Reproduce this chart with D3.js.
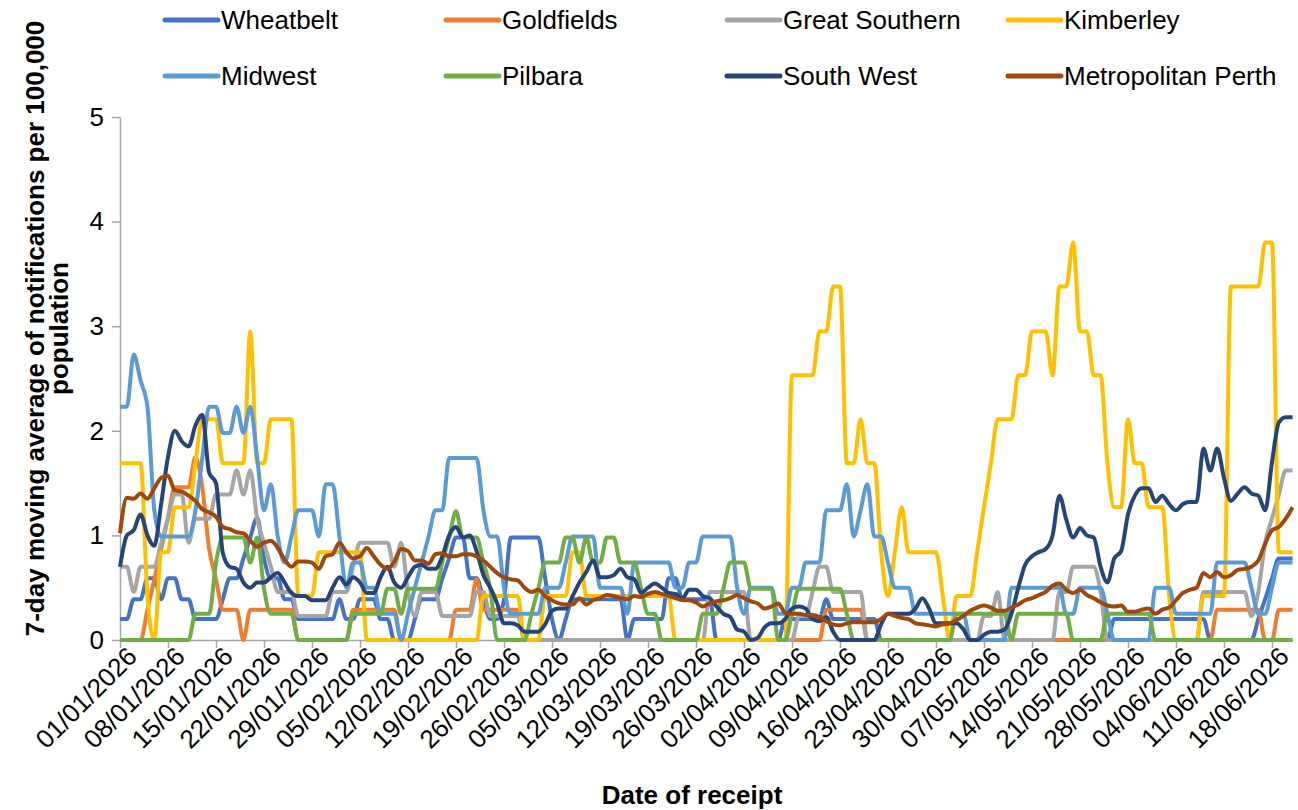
<!DOCTYPE html>
<html lang="en">
<head>
<meta charset="UTF-8">
<title>7-day moving average of notifications by region</title>
<script src="https://cdnjs.cloudflare.com/ajax/libs/d3/7.8.5/d3.min.js"></script>
<style>
  body { margin: 0; background: #fff; }
  svg text { font-family: "Liberation Sans", Arial, sans-serif; fill: #000; }
  .axis path, .axis line { stroke: #a6a6a6; stroke-width: 1.5; }
  .axis text { font-size: 26px; }
  .title { font-size: 26px; font-weight: bold; }
  .legend text { font-size: 26px; }
</style>
</head>
<body>
<svg id="chart" width="1298" height="810"></svg>
<script>
// Daily 7-day moving averages, one row per week, starting 01/01/2026
const wheatbelt = [
  0.2,0.2,0.39,0.39,0.59,0.59,0.39,
  0.59,0.59,0.39,0.39,0.2,0.2,0.2,
  0.2,0.39,0.59,0.59,0.78,0.98,1.17,
  0.78,0.59,0.59,0.39,0.39,0.2,0.2,
  0.2,0.2,0.2,0.2,0.39,0.2,0.2,
  0.39,0.39,0.39,0.2,0.2,0,0,
  0,0.2,0.39,0.39,0.39,0.59,0.78,
  0.98,0.98,0.59,0.59,0.39,0.2,0.2,
  0.39,0.98,0.98,0.98,0.98,0.98,0.59,
  0.2,0,0.2,0.39,0.39,0.39,0.39,
  0.39,0.39,0.39,0.39,0,0.2,0.2,
  0.2,0.2,0.2,0.59,0.59,0.39,0.39,
  0.39,0.39,0.39,0,0,0,0,
  0,0,0,0,0,0,0.2,
  0.2,0.2,0.2,0.2,0.2,0.39,0.2,
  0.2,0.2,0.2,0.2,0.2,0.2,0,
  0,0,0,0,0,0,0,
  0,0,0,0,0,0,0,
  0,0,0,0,0,0,0,
  0,0,0,0,0,0,0,
  0,0,0,0,0,0.2,0.2,
  0.2,0.2,0.2,0.2,0.2,0.2,0.2,
  0.2,0.2,0.2,0.2,0.2,0,0,
  0,0,0,0,0,0.2,0.39,
  0.59,0.78,0.78,0.78
];
const goldfields = [
  0,0,0,0,0.29,0.58,0.87,
  1.17,1.46,1.46,1.46,1.75,1.46,0.87,
  0.58,0.29,0.29,0.29,0,0.29,0.29,
  0.29,0.29,0.29,0.29,0.29,0,0,
  0,0,0,0,0,0,0.29,
  0.29,0.29,0.29,0.29,0.29,0.29,0,
  0,0,0,0,0,0,0,
  0.29,0.29,0.29,0.58,0.29,0.29,0.29,
  0.29,0.29,0.29,0,0,0,0,
  0,0,0,0,0,0,0,
  0,0,0,0,0,0,0,
  0,0,0,0,0,0,0,
  0,0,0,0,0,0,0,
  0,0,0,0,0,0,0,
  0,0,0,0,0,0.29,0.29,
  0.29,0.29,0.29,0.29,0,0,0,
  0,0,0,0,0,0,0,
  0,0,0,0,0,0,0,
  0,0,0,0,0,0,0,
  0,0,0,0,0,0,0,
  0,0,0,0,0,0,0,
  0,0,0,0,0,0,0,
  0,0,0,0,0,0,0.29,
  0.29,0.29,0.29,0.29,0.29,0.29,0,
  0,0.29,0.29,0.29
];
const greatSouthern = [
  0.7,0.7,0.46,0.7,0.7,0.7,0.93,
  1.16,1.39,1.39,0.93,1.16,1.16,1.16,
  1.39,1.39,1.39,1.62,1.39,1.62,1.16,
  0.93,0.7,0.46,0.46,0.46,0.23,0.23,
  0.23,0.23,0.23,0.46,0.46,0.46,0.7,
  0.93,0.93,0.93,0.93,0.93,0.7,0.93,
  0.46,0.23,0.46,0.46,0.46,0.23,0.23,
  0.23,0.23,0.23,0.46,0.46,0.23,0.23,
  0.23,0.23,0.23,0,0,0,0,
  0,0,0,0,0,0,0,
  0,0,0,0,0,0,0,
  0,0,0,0,0,0,0,
  0,0,0.46,0.46,0.46,0.46,0.46,
  0.46,0,0,0,0,0,0,
  0,0.23,0.23,0.46,0.7,0.7,0.46,
  0.46,0.46,0.46,0.46,0,0,0,
  0,0,0,0,0,0,0,
  0,0,0,0,0,0,0,
  0.23,0.23,0.46,0,0,0,0,
  0,0,0,0,0.46,0.46,0.7,
  0.7,0.7,0.7,0.46,0,0,0,
  0,0,0,0,0,0,0,
  0,0,0,0,0.46,0.46,0.46,
  0.46,0.46,0.46,0.46,0.23,0.46,0.93,
  1.16,1.39,1.62,1.62
];
const kimberley = [
  1.69,1.69,1.69,1.69,0.42,0,0.84,
  0.84,1.27,1.27,1.27,1.69,2.11,2.11,
  2.11,1.69,1.69,1.69,1.69,2.95,1.69,
  1.69,2.11,2.11,2.11,2.11,0.42,0.42,
  0.42,0.84,0.84,0.84,0.84,0.84,0.84,
  0.84,0,0,0,0,0,0,
  0,0,0,0,0,0,0,
  0,0,0,0,0.42,0.42,0.42,
  0.42,0.42,0.42,0,0,0,0.42,
  0.42,0.42,0.42,0.84,0.84,0.42,0.42,
  0.42,0.42,0.42,0.42,0.42,0.42,0.42,
  0.42,0.42,0.42,0.42,0,0,0,
  0,0,0,0,0,0,0,
  0,0,0,0,0,0,0,
  2.53,2.53,2.53,2.53,2.95,2.95,3.38,
  3.38,1.69,1.69,2.11,1.69,1.69,0.84,
  0.42,0.84,1.27,0.84,0.84,0.84,0.84,
  0.84,0.42,0,0.42,0.42,0.42,0.84,
  1.27,1.69,2.11,2.11,2.11,2.53,2.53,
  2.95,2.95,2.95,2.53,3.38,3.38,3.80,
  2.95,2.95,2.53,2.53,1.69,1.27,1.27,
  2.11,1.69,1.69,1.27,1.27,1.27,0.42,
  0,0,0,0,0.42,0.42,0.42,
  0.42,3.38,3.38,3.38,3.38,3.38,3.80,
  3.80,0.84,0.84,0.84
];
const midwest = [
  2.23,2.23,2.73,2.48,2.23,1.24,0.99,
  0.99,0.99,0.99,0.99,1.24,1.74,2.23,
  2.23,1.98,1.98,2.23,1.98,2.23,1.74,
  1.24,1.49,0.99,0.74,0.99,1.24,1.24,
  1.24,0.99,1.49,1.49,0.99,0.5,0.74,
  0.74,0.5,0.5,0.25,0.25,0.25,0,
  0.25,0.5,0.74,0.99,1.24,1.24,1.74,
  1.74,1.74,1.74,1.74,1.24,0.99,0.99,
  0.5,0.25,0.25,0.25,0.25,0.25,0.5,
  0.5,0.5,0.74,0.99,0.99,0.99,0.99,
  0.5,0.5,0.5,0.5,0.25,0.74,0.74,
  0.74,0.74,0.74,0.74,0.5,0.5,0.74,
  0.74,0.99,0.99,0.99,0.99,0.99,0.5,
  0.25,0.5,0.5,0.5,0.5,0.25,0.25,
  0.5,0.5,0.74,0.74,0.74,1.24,1.24,
  1.24,1.49,0.99,1.24,1.49,0.99,0.99,
  0.74,0.5,0.5,0.5,0.25,0.25,0.25,
  0.25,0.25,0.25,0.25,0.25,0,0,
  0,0,0,0,0.5,0.5,0.5,
  0.5,0.5,0.5,0.5,0.5,0.25,0.25,
  0.5,0.5,0.5,0.5,0.25,0,0,
  0,0,0,0,0.5,0.5,0.5,
  0.25,0.25,0.25,0.25,0.25,0.25,0.74,
  0.74,0.74,0.74,0.74,0.5,0.25,0.25,
  0.5,0.74,0.74,0.74
];
const pilbara = [
  0,0,0,0,0,0,0,
  0,0,0,0,0.25,0.25,0.25,
  0.74,0.98,0.98,0.98,0.98,0.74,0.98,
  0.49,0.25,0.25,0.25,0.25,0,0,
  0,0,0,0,0,0,0.25,
  0.25,0.25,0.25,0.25,0.49,0.49,0.25,
  0.49,0.49,0.49,0.49,0.49,0.74,0.98,
  1.23,0.98,0.98,0.98,0.74,0.49,0,
  0,0,0,0,0.25,0.49,0.74,
  0.74,0.74,0.98,0.98,0.74,0.98,0.74,
  0.74,0.98,0.98,0.74,0.74,0.74,0.49,
  0.25,0.25,0,0,0,0,0,
  0,0.25,0.25,0.25,0.49,0.74,0.74,
  0.74,0.49,0.49,0.49,0.49,0,0,
  0.25,0.49,0.49,0.49,0.49,0.49,0.49,
  0.49,0.25,0,0,0,0,0,
  0,0,0,0,0,0,0,
  0,0,0,0.25,0.25,0.25,0.25,
  0.25,0.25,0.25,0.25,0,0.25,0.25,
  0.25,0.25,0.25,0.25,0.25,0.25,0,
  0,0,0,0,0.25,0.25,0.25,
  0.25,0.25,0.25,0.25,0,0,0,
  0,0,0,0,0,0,0,
  0,0,0,0,0,0,0,
  0,0,0,0
];
const southWest = [
  0.7,1.0,1.05,1.2,1.0,0.9,1.3,
  1.75,2.0,1.9,1.85,2.05,2.15,1.6,
  1.5,0.83,0.7,0.68,0.55,0.5,0.55,
  0.55,0.6,0.64,0.55,0.45,0.42,0.42,
  0.38,0.38,0.38,0.5,0.6,0.53,0.6,
  0.55,0.45,0.45,0.6,0.7,0.55,0.5,
  0.6,0.7,0.72,0.68,0.68,0.8,1.0,
  1.08,0.98,1.0,0.85,0.62,0.5,0.35,
  0.16,0.16,0.14,0.08,0.08,0.08,0.15,
  0.28,0.3,0.3,0.42,0.55,0.65,0.76,
  0.6,0.6,0.62,0.68,0.6,0.58,0.45,
  0.5,0.54,0.5,0.45,0.44,0.4,0.48,
  0.48,0.42,0.4,0.32,0.25,0.22,0.1,
  0.08,0,0.02,0.12,0.16,0.16,0.2,
  0.3,0.32,0.3,0.2,0.18,0.22,0.08,
  0,0,0,0,0,0,0.15,
  0.25,0.25,0.25,0.25,0.3,0.4,0.3,
  0.16,0.16,0.16,0.16,0.1,0,0,
  0.05,0.08,0.08,0.1,0.25,0.5,0.72,
  0.8,0.84,0.87,1.0,1.38,1.15,0.98,
  1.07,1.0,0.98,0.7,0.55,0.78,0.85,
  1.2,1.38,1.45,1.45,1.32,1.38,1.3,
  1.24,1.3,1.32,1.32,1.83,1.62,1.83,
  1.55,1.33,1.4,1.46,1.4,1.38,1.24,
  1.7,2.08,2.13,2.13
];
const metroPerth = [
  1.02,1.36,1.35,1.4,1.35,1.45,1.55,
  1.57,1.43,1.42,1.38,1.33,1.25,1.22,
  1.18,1.08,1.06,1.03,1.02,0.95,0.89,
  0.93,0.95,0.88,0.77,0.7,0.75,0.75,
  0.74,0.68,0.8,0.82,0.93,0.84,0.78,
  0.8,0.88,0.8,0.72,0.68,0.75,0.87,
  0.85,0.76,0.76,0.73,0.82,0.83,0.8,
  0.8,0.82,0.82,0.8,0.76,0.7,0.64,
  0.6,0.58,0.57,0.5,0.46,0.48,0.42,
  0.38,0.35,0.34,0.34,0.4,0.34,0.38,
  0.4,0.43,0.42,0.4,0.39,0.42,0.41,
  0.44,0.46,0.44,0.42,0.4,0.38,0.38,
  0.36,0.32,0.35,0.37,0.38,0.4,0.43,
  0.4,0.37,0.35,0.3,0.32,0.35,0.26,
  0.25,0.25,0.24,0.24,0.22,0.18,0.15,
  0.14,0.16,0.17,0.17,0.17,0.17,0.2,
  0.25,0.23,0.21,0.2,0.16,0.15,0.14,
  0.13,0.15,0.16,0.19,0.23,0.28,0.31,
  0.33,0.31,0.28,0.28,0.31,0.34,0.38,
  0.4,0.43,0.46,0.52,0.54,0.48,0.45,
  0.48,0.43,0.4,0.36,0.33,0.32,0.33,
  0.27,0.27,0.29,0.3,0.25,0.29,0.31,
  0.38,0.45,0.48,0.5,0.64,0.6,0.65,
  0.6,0.62,0.67,0.68,0.7,0.76,0.92,
  1.05,1.08,1.16,1.27
];

const tickLabels = [
  "01/01/2026","08/01/2026","15/01/2026","22/01/2026","29/01/2026",
  "05/02/2026","12/02/2026","19/02/2026","26/02/2026","05/03/2026",
  "12/03/2026","19/03/2026","26/03/2026","02/04/2026","09/04/2026",
  "16/04/2026","23/04/2026","30/04/2026","07/05/2026","14/05/2026",
  "21/05/2026","28/05/2026","04/06/2026","11/06/2026","18/06/2026"
];
const yTicks = [0, 1, 2, 3, 4, 5];

const series = [
  { name: "Wheatbelt", values: wheatbelt, color: "#4472C4" },
  { name: "Goldfields", values: goldfields, color: "#ED7D31" },
  { name: "Great Southern", values: greatSouthern, color: "#A5A5A5" },
  { name: "Kimberley", values: kimberley, color: "#FFC000" },
  { name: "Midwest", values: midwest, color: "#5B9BD5" },
  { name: "Pilbara", values: pilbara, color: "#70AD47" },
  { name: "South West", values: southWest, color: "#264478" },
  { name: "Metropolitan Perth", values: metroPerth, color: "#9E480E" }
];

const svg = d3.select("#chart");
const margin = { top: 117, right: 5, bottom: 170, left: 120 };
const width = 1298, height = 810;

const parseDate = d3.utcParse("%d/%m/%Y");
const start = parseDate(tickLabels[0]);
const nDays = wheatbelt.length;
const end = d3.utcDay.offset(start, nDays - 1);

// one week = 48px on the reference
const x = d3.scaleUtc()
  .domain([start, end])
  .range([margin.left, margin.left + (nDays - 1) * 48 / 7]);
const y = d3.scaleLinear()
  .domain([0, 5])
  .range([height - margin.bottom, margin.top]);

// y axis
svg.append("g")
  .attr("class", "axis")
  .attr("transform", `translate(${margin.left},0)`)
  .call(d3.axisLeft(y).tickValues(yTicks).tickFormat(d3.format("d")).tickSize(8).tickSizeOuter(0).tickPadding(8));

// x axis
const xAxis = svg.append("g")
  .attr("class", "axis")
  .attr("transform", `translate(0,${y(0)})`)
  .call(d3.axisBottom(x).tickValues(tickLabels.map(parseDate))
    .tickFormat(d3.utcFormat("%d/%m/%Y")).tickSize(8).tickSizeOuter(0));

xAxis.selectAll("text")
  .attr("text-anchor", "end")
  .attr("dy", "0.35em")
  .attr("transform", "translate(6,6) rotate(-45)")
  .attr("x", 0).attr("y", 8);

// lines
const line = d3.line()
  .x((d, i) => x(d3.utcDay.offset(start, i)))
  .y(d => y(d))
  .curve(d3.curveMonotoneX);

svg.append("g")
  .selectAll("path")
  .data(series)
  .join("path")
  .attr("fill", "none")
  .attr("stroke", d => d.color)
  .attr("stroke-width", 4)
  .attr("stroke-linejoin", "round")
  .attr("d", d => line(d.values));

// legend: 4 columns x 2 rows
const legend = svg.append("g").attr("class", "legend");
series.forEach((s, i) => {
  const gx = 165 + (i % 4) * 281;
  const gy = 20 + Math.floor(i / 4) * 56;
  const g = legend.append("g").attr("transform", `translate(${gx},${gy})`);
  g.append("line")
    .attr("x1", 0).attr("x2", 53)
    .attr("stroke", s.color).attr("stroke-width", 5).attr("stroke-linecap", "round");
  g.append("text")
    .attr("x", 56).attr("dy", "0.35em")
    .text(s.name);
});

// axis titles
const yTitle = svg.append("g")
  .attr("transform", `translate(0,${(y(0) + y(5)) / 2 - 50}) rotate(-90)`);
yTitle.append("text").attr("class", "title")
  .attr("text-anchor", "middle").attr("y", 44)
  .text("7-day moving average of notifications per 100,000");
yTitle.append("text").attr("class", "title")
  .attr("text-anchor", "middle").attr("y", 68)
  .text("population");

svg.append("text").attr("class", "title")
  .attr("text-anchor", "middle")
  .attr("x", 692).attr("y", 804)
  .text("Date of receipt");
</script>
</body>
</html>
